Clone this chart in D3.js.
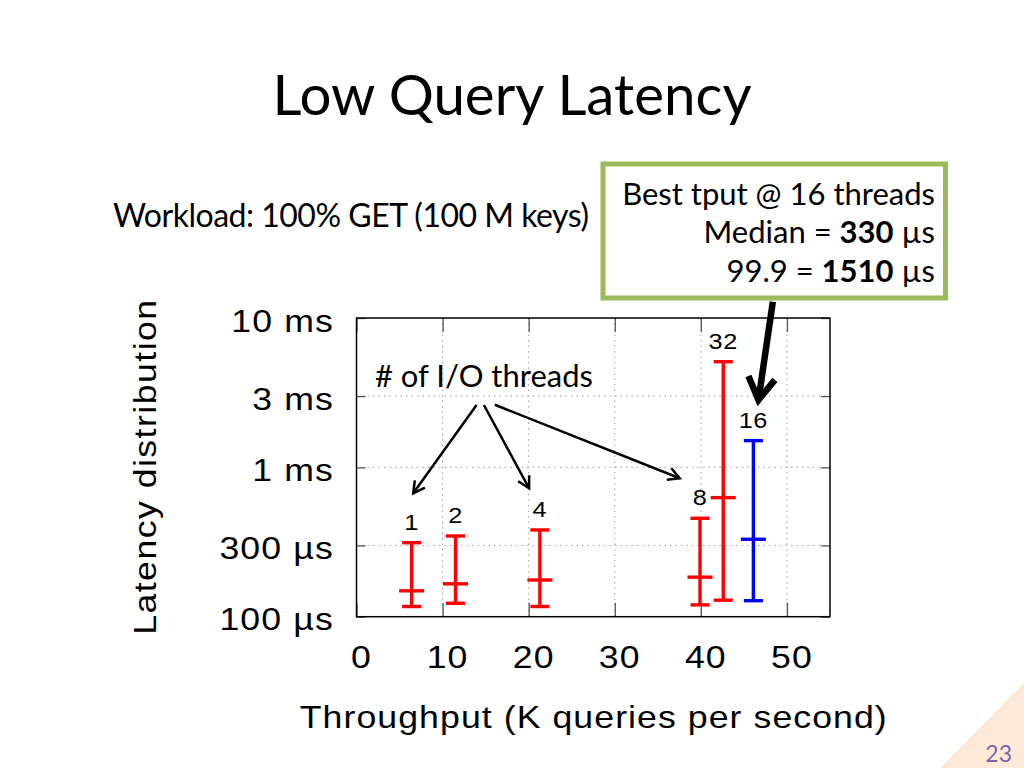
<!DOCTYPE html>
<html>
<head>
<meta charset="utf-8">
<script src="https://cdn.jsdelivr.net/npm/d3@7"></script>
<style>
  body { margin: 0; background: #fff; }
  svg { display: block; }
</style>
</head>
<body>
<div id="chart"></div>
<script>
// thread counts per run, throughput in K queries/s, latency in µs
const threads = [1, 2, 4, 8, 32, 16];
const throughput = [6.4, 11.5, 21.3, 39.9, 42.6, 46.1];
const latLow = [117, 123, 117, 120, 129, 128];
const latMedian = [149, 166, 176, 184, 627, 330];
const latP999 = [313, 347, 381, 456, 5100, 1510];
const isBest = [false, false, false, false, false, true];

const xTicks = [0, 10, 20, 30, 40, 50];
const yTicks = [100, 300, 1000, 3000, 10000];
const yTickLabels = ["100 µs", "300 µs", "1 ms", "3 ms", "10 ms"];

// annotation arrows, in data coordinates [K q/s, µs]
const pointerFrom = [[13.95, 2616], [14.8, 2616], [16.07, 2625]];
const pointerTo = [[6.59, 670], [20.05, 724], [37.54, 845]];
const bestFrom = [48.36, 12860];
const bestTo = [46.69, 2825];

const W = 1024, H = 768;
const plot = { left: 356.5, right: 830, top: 318, bottom: 616.7 };
const slideFont = "Lato, 'Open Sans', sans-serif";
const plotFont = "'Liberation Sans', Arial, sans-serif";
const stretch = 1.15; // the plot image is a bit wide in the slide

const svg = d3.select("#chart").append("svg")
    .attr("width", W)
    .attr("height", H);

// corner decoration and page number
svg.append("polygon")
    .attr("points", "1024,683 1024,768 940,768")
    .attr("fill", "#fde9d8");
svg.append("text")
    .attr("x", 1012).attr("y", 762)
    .attr("text-anchor", "end")
    .attr("font-family", slideFont)
    .attr("font-size", 23)
    .attr("fill", "#7d68a6")
    .text("23");

// title
svg.append("text")
    .attr("x", 512).attr("y", 115)
    .attr("text-anchor", "middle")
    .attr("font-family", slideFont)
    .attr("font-size", 56)
    .attr("textLength", 479)
    .attr("lengthAdjust", "spacingAndGlyphs")
    .text("Low Query Latency");

svg.append("text")
    .attr("x", 113).attr("y", 227)
    .attr("font-family", slideFont)
    .attr("font-size", 32)
    .attr("textLength", 476)
    .attr("lengthAdjust", "spacing")
    .text("Workload: 100% GET (100 M keys)");

const x = d3.scaleLinear().domain([0, 55]).range([plot.left, plot.right]);
const y = d3.scaleLog().domain([100, 10000]).range([plot.bottom, plot.top]);

const g = svg.append("g");

// grid
g.selectAll(".gx")
    .data(xTicks.filter(d => d > 0))
    .join("line")
    .attr("x1", d => x(d)).attr("x2", d => x(d))
    .attr("y1", plot.top).attr("y2", plot.bottom)
    .attr("stroke", "#a0a0a0")
    .attr("stroke-width", 1)
    .attr("stroke-dasharray", "1.5,4");
g.selectAll(".gy")
    .data(yTicks.slice(1, -1))
    .join("line")
    .attr("x1", plot.left).attr("x2", plot.right)
    .attr("y1", d => y(d)).attr("y2", d => y(d))
    .attr("stroke", "#a0a0a0")
    .attr("stroke-width", 1)
    .attr("stroke-dasharray", "1.5,4");

// axes with inward ticks on all four sides
const tickLenX = 14, tickLenY = 9;
const axisBottom = d3.axisBottom(x).tickValues(xTicks).tickSize(-tickLenX).tickFormat("");
const axisTop = d3.axisTop(x).tickValues(xTicks).tickSize(-tickLenX).tickFormat("");
const axisLeft = d3.axisLeft(y).tickValues(yTicks).tickSize(-tickLenY).tickFormat("");
const axisRight = d3.axisRight(y).tickValues(yTicks).tickSize(-tickLenY).tickFormat("");

[[axisBottom, `translate(0,${plot.bottom})`], [axisTop, `translate(0,${plot.top})`],
 [axisLeft, `translate(${plot.left},0)`], [axisRight, `translate(${plot.right},0)`]]
    .forEach(([ax, tr]) => {
        const a = g.append("g").attr("transform", tr).call(ax);
        a.select(".domain").remove();
        a.selectAll(".tick line").attr("stroke", "#555").attr("stroke-width", 1.3);
    });

g.append("rect")
    .attr("x", plot.left).attr("y", plot.top)
    .attr("width", plot.right - plot.left)
    .attr("height", plot.bottom - plot.top)
    .attr("fill", "none")
    .attr("stroke", "#000")
    .attr("stroke-width", 1.5);

// plot text, widened a little like the original
function plotText(sel, fx, fy, size, spacing) {
    return sel
        .attr("transform", (d, i) => `translate(${fx(d, i)},${fy(d, i)}) scale(${stretch},1)`)
        .attr("font-family", plotFont)
        .attr("font-size", size)
        .attr("letter-spacing", spacing);
}

plotText(g.selectAll(".xl").data(xTicks).join("text"),
        d => x(d) + 5, () => 668, 31, 1)
    .attr("text-anchor", "middle")
    .text(d => d);
plotText(g.selectAll(".yl").data(yTicks).join("text"),
        () => 334, d => y(d) + 13.5, 31, 1)
    .attr("text-anchor", "end")
    .text((d, i) => yTickLabels[i]);

// axis titles
svg.append("text")
    .attr("transform", `translate(${(plot.left + plot.right) / 2},728) scale(${stretch},1)`)
    .attr("text-anchor", "middle")
    .attr("font-family", plotFont)
    .attr("font-size", 31)
    .attr("textLength", 587 / stretch)
    .attr("lengthAdjust", "spacing")
    .text("Throughput (K queries per second)");
svg.append("text")
    .attr("transform", `translate(156,${(plot.top + plot.bottom) / 2}) rotate(-90) scale(${stretch},1)`)
    .attr("text-anchor", "middle")
    .attr("font-family", plotFont)
    .attr("font-size", 31)
    .attr("textLength", 335 / stretch)
    .attr("lengthAdjust", "spacing")
    .text("Latency distribution");

// error bars
const runs = threads.map((t, i) => ({
    t, x: throughput[i], lo: latLow[i], med: latMedian[i], hi: latP999[i],
    color: isBest[i] ? "#0000ff" : "#ff0000"
}));
const capHalf = 9.5, medHalf = 12.5;
const bars = g.selectAll(".bar").data(runs).join("g")
    .attr("stroke", d => d.color)
    .attr("stroke-width", 3.4);
bars.append("line")
    .attr("x1", d => x(d.x)).attr("x2", d => x(d.x))
    .attr("y1", d => y(d.lo)).attr("y2", d => y(d.hi));
[["lo", capHalf], ["hi", capHalf], ["med", medHalf]].forEach(([k, hw]) => {
    bars.append("line")
        .attr("x1", d => x(d.x) - hw).attr("x2", d => x(d.x) + hw)
        .attr("y1", d => y(d[k])).attr("y2", d => y(d[k]));
});
plotText(g.selectAll(".blabel").data(runs).join("text"),
        d => x(d.x), d => y(d.hi) - 13, 22, 0.5)
    .attr("text-anchor", "middle")
    .text(d => d.t);

// arrows
function arrow(p0, p1, width, headLen, headAng) {
    const a0 = [x(p0[0]), y(p0[1])], a1 = [x(p1[0]), y(p1[1])];
    const ang = Math.atan2(a1[1] - a0[1], a1[0] - a0[0]);
    const arm = s => [a1[0] - headLen * Math.cos(ang + s * headAng),
                      a1[1] - headLen * Math.sin(ang + s * headAng)];
    const ag = svg.append("g")
        .attr("stroke", "#000")
        .attr("stroke-width", width)
        .attr("fill", "none");
    ag.append("line")
        .attr("x1", a0[0]).attr("y1", a0[1])
        .attr("x2", a1[0]).attr("y2", a1[1]);
    ag.append("path")
        .attr("d", d3.line()([arm(-1), a1, arm(1)]))
        .attr("stroke-linejoin", "miter");
}
pointerFrom.forEach((p, i) => arrow(p, pointerTo[i], 2.5, 13, 0.5));
arrow(bestFrom, bestTo, 6.5, 26, 0.54);

svg.append("text")
    .attr("x", x(14.8)).attr("y", 387)
    .attr("text-anchor", "middle")
    .attr("font-family", slideFont)
    .attr("font-size", 30)
    .attr("textLength", 218)
    .attr("lengthAdjust", "spacingAndGlyphs")
    .text("# of I/O threads");

// callout box
svg.append("rect")
    .attr("x", 603).attr("y", 164)
    .attr("width", 342.5).attr("height", 134)
    .attr("fill", "#fff")
    .attr("stroke", "#9bbb59")
    .attr("stroke-width", 5);
const boxLines = [
    [["Best tput @ 16 threads", false]],
    [["Median = ", false], ["330", true], [" µs", false]],
    [["99.9 = ", false], ["1510", true], [" µs", false]]
];
const boxBase = [205, 243, 282];
boxLines.forEach((parts, i) => {
    const t = svg.append("text")
        .attr("x", 935).attr("y", boxBase[i])
        .attr("text-anchor", "end")
        .attr("font-family", slideFont)
        .attr("font-size", 31);
    parts.forEach(([s, b]) => t.append("tspan")
        .attr("font-weight", b ? "bold" : "normal")
        .text(s));
});
</script>
</body>
</html>
